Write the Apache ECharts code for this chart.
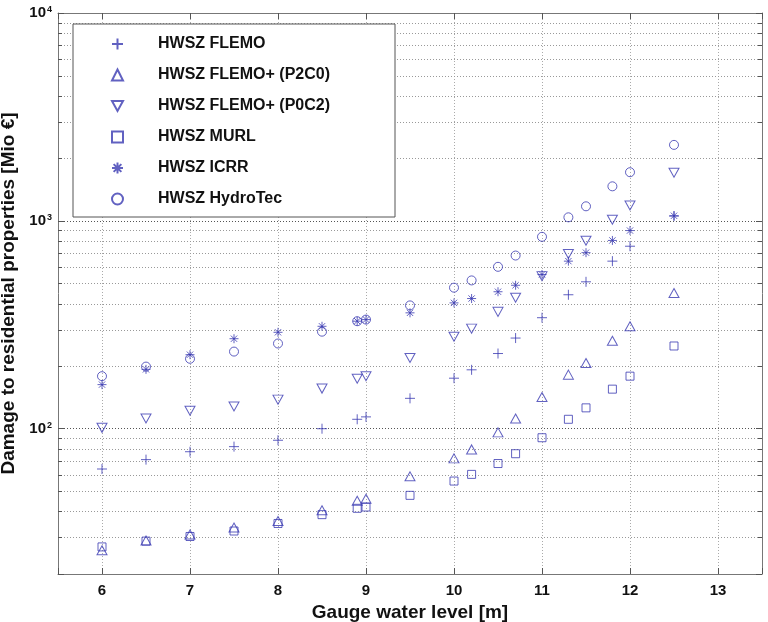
<!DOCTYPE html>
<html>
<head>
<meta charset="utf-8">
<script src="https://cdn.jsdelivr.net/npm/echarts@6/dist/echarts.min.js"></script>
<style>html,body{margin:0;padding:0;background:#fff}#c{width:768px;height:622px}</style>
</head>
<body>
<div id="c"></div>
<script>
// Gauge water level [m]
var levels = [6, 6.5, 7, 7.5, 8, 8.5, 8.9, 9, 9.5, 10, 10.2, 10.5, 10.7, 11, 11.3, 11.5, 11.8, 12, 12.5];
// Damage [Mio €]
var flemo    = [64, 71, 77.5, 82, 88, 100, 111, 114, 140, 175, 192, 230, 273, 342, 441, 509, 640, 755, 1055];
var flemoP2C0 = [26, 29, 31, 33.5, 36, 40.5, 45, 46, 59, 72, 79.5, 96, 112, 142, 182, 207, 265, 311, 450];
var flemoP0C2 = [101, 112, 122, 128, 138, 156, 174, 179, 219, 277, 303, 365, 427, 542, 693, 803, 1013, 1186, 1705];
var murl     = [27, 28.8, 30.3, 32.2, 35, 38.6, 41.4, 42, 47.8, 56, 60.3, 68, 75.8, 90.5, 111, 126, 155, 179, 250];
var icrr     = [163, 193, 227, 271, 291, 311, 329, 335, 361, 403, 423, 456, 490, 552, 640, 703, 805, 898, 1058];
var hydrotec = [179, 199, 217, 235, 257, 293, 329, 335, 392, 477, 517, 601, 681, 838, 1040, 1175, 1466, 1714, 2320];

var seriesNames = ['HWSZ FLEMO', 'HWSZ FLEMO+ (P2C0)', 'HWSZ FLEMO+ (P0C2)', 'HWSZ MURL', 'HWSZ ICRR', 'HWSZ HydroTec'];
// minor log grid values (2..9 per decade)
var minorGridValues = [30, 40, 50, 60, 70, 80, 90, 200, 300, 400, 500, 600, 700, 800, 900, 2000, 3000, 4000, 5000, 6000, 7000, 8000, 9000];
var X_MIN = 5.5, X_MAX = 13.5, Y_MIN = 20, Y_MAX = 10000;

var FONT = '"Liberation Sans", Arial, sans-serif';
var MC = '#3a3ab2';

function pairs(ys) { return levels.map(function (x, i) { return [x, ys[i]]; }); }

function mk(name, data, symbol, size) {
  return {
    name: name, type: 'scatter', data: pairs(data),
    symbol: symbol, symbolSize: size,
    itemStyle: { color: 'transparent', borderColor: MC, borderWidth: 1 },
    emphasis: { disabled: true }, z: 5
  };
}

var chart = echarts.init(document.getElementById('c'));
var option = {
  animation: false,
  backgroundColor: '#fff',
  grid: { left: 58, right: 6, top: 13, bottom: 48, show: false, containLabel: false, outerBoundsMode: 'none' },
  legend: {
    orient: 'vertical', left: 73, top: 24,
    padding: [12, 65, 10, 38],
    itemWidth: 11, itemHeight: 11, itemGap: 15,
    borderColor: '#555', borderWidth: 1, backgroundColor: '#fff',
    textStyle: { fontFamily: FONT, fontWeight: 'bold', fontSize: 16, color: '#111', padding: [0, 0, 0, 30] },
    data: seriesNames, selectedMode: false
  },
  xAxis: [{
    type: 'value', min: X_MIN, max: X_MAX, splitNumber: 8,
    name: 'Gauge water level [m]', nameLocation: 'middle', nameGap: 23,
    nameTextStyle: { fontFamily: FONT, fontWeight: 'bold', fontSize: 19, color: '#111' },
    axisLine: { show: true, lineStyle: { color: '#777' } },
    axisTick: { show: true, inside: true, length: 6, lineStyle: { color: '#555' } },
    axisLabel: { fontFamily: FONT, fontWeight: 'bold', fontSize: 15, color: '#111', margin: 9,
      formatter: function (v) { return Number.isInteger(v) ? String(v) : ''; } },
    splitLine: { show: true, lineStyle: { color: '#aaa', type: [1, 2] } }
  }, {
    type: 'value', min: X_MIN, max: X_MAX, splitNumber: 8, position: 'top',
    axisLine: { show: true, lineStyle: { color: '#777' } },
    axisTick: { show: true, inside: true, length: 6, lineStyle: { color: '#555' } },
    axisLabel: { show: false }, splitLine: { show: false }
  }],
  yAxis: [{
    type: 'log', logBase: 10, min: Y_MIN, max: Y_MAX,
    name: 'Damage to residential properties [Mio €]', nameLocation: 'middle', nameGap: 32,
    nameTextStyle: { fontFamily: FONT, fontWeight: 'bold', fontSize: 19, color: '#111' },
    axisLine: { show: true, lineStyle: { color: '#777' } },
    axisTick: { show: true, inside: true, length: 6, lineStyle: { color: '#555' } },
    axisLabel: {
      margin: 6,
      formatter: function (v) {
        var e = Math.log10(v);
        if (Math.abs(e - Math.round(e)) < 1e-6) return '{b|10}{s|' + Math.round(e) + '}';
        return '';
      },
      rich: {
        b: { fontFamily: FONT, fontWeight: 'bold', fontSize: 15, color: '#111', lineHeight: 15, verticalAlign: 'bottom' },
        s: { fontFamily: FONT, fontWeight: 'bold', fontSize: 9, color: '#111', lineHeight: 10, verticalAlign: 'top', padding: [0, 0, 8, 1] }
      }
    },
    splitLine: { show: true, lineStyle: { color: '#555', type: [1, 2] } }
  }, {
    type: 'log', logBase: 10, min: Y_MIN, max: Y_MAX, position: 'right',
    axisLine: { show: true, lineStyle: { color: '#777' } },
    axisTick: { show: true, inside: true, length: 6, lineStyle: { color: '#555' } },
    axisLabel: { show: false }, splitLine: { show: false }
  }],
  series: [
    {
      type: 'custom', name: 'minorGrid', silent: true, z: 1,
      data: minorGridValues.map(function (v) { return [X_MIN, v]; }),
      encode: { x: 0, y: 1 },
      renderItem: function (params, api) {
        var v = api.value(1);
        var p1 = api.coord([X_MIN, v]);
        var p2 = api.coord([X_MAX, v]);
        var y = Math.round(p1[1]) + 0.5;
        return { type: 'group', children: [
          { type: 'line', shape: { x1: p1[0], y1: y, x2: p2[0], y2: y }, style: { stroke: '#999', lineWidth: 1, lineDash: [1, 2] } },
          { type: 'line', shape: { x1: p1[0], y1: y, x2: p1[0] + 4, y2: y }, style: { stroke: '#555', lineWidth: 1 } },
          { type: 'line', shape: { x1: p2[0] - 4, y1: y, x2: p2[0], y2: y }, style: { stroke: '#555', lineWidth: 1 } }
        ] };
      }
    },
    mk(seriesNames[0], flemo, 'path://M5,0L5,10M0,5L10,5', 10),
    mk(seriesNames[1], flemoP2C0, 'triangle', [10, 9]),
    mk(seriesNames[2], flemoP0C2, 'path://M0,0L10,0L5,9Z', [10, 9]),
    mk(seriesNames[3], murl, 'rect', 8),
    mk(seriesNames[4], icrr, 'path://M5,0L5,10M0,5L10,5M1.5,1.5L8.5,8.5M8.5,1.5L1.5,8.5', 9),
    mk(seriesNames[5], hydrotec, 'circle', 9)
  ]
};
chart.setOption(option);
</script>
</body>
</html>
